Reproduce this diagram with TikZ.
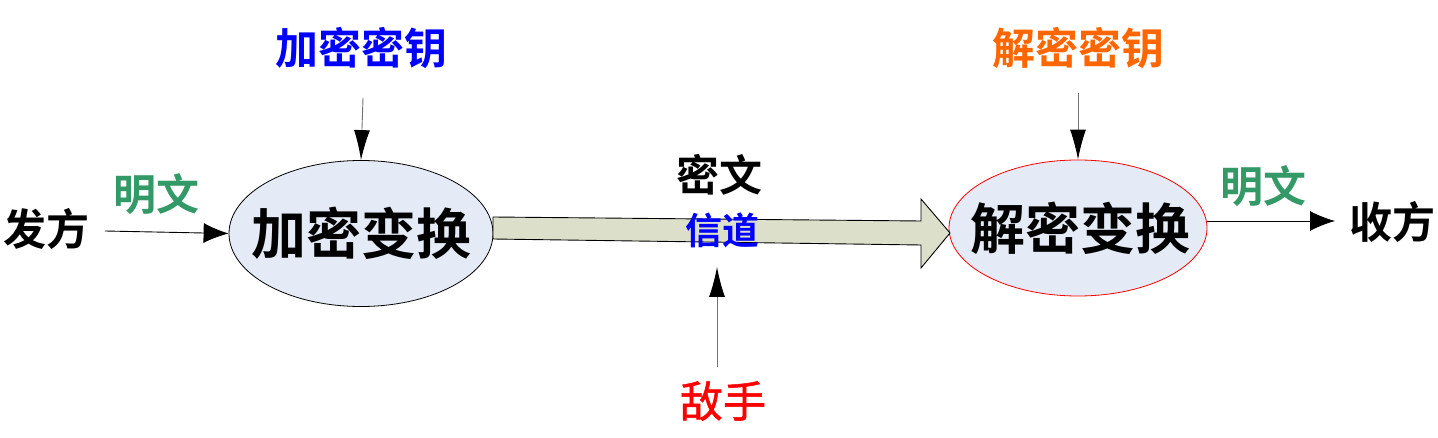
\documentclass[tikz,border=0pt]{standalone}
\usepackage{fontspec}
\newfontfamily\cjk{Noto Sans CJK SC}[BoldFont={Noto Sans CJK SC Bold}]
\newfontfamily\cjkmid{Noto Sans CJK SC}[FakeBold=1.2]
\usetikzlibrary{shapes.geometric,arrows.meta}
\definecolor{keyblue}{HTML}{0000FF}
\definecolor{keyorange}{HTML}{FF6600}
\definecolor{plaingreen}{HTML}{339966}
\definecolor{enemyred}{HTML}{FF0000}
\definecolor{ellfill}{HTML}{E5EBF6}
\definecolor{pipefill}{HTML}{DCDFCA}
\tikzset{
  lbl/.style={inner sep=0pt, font=\cjk\bfseries\fontsize{43}{50}\selectfont},
  biglbl/.style={inner sep=0pt, font=\cjk\bfseries\fontsize{55}{62}\selectfont},
  transform/.style={ellipse, fill=ellfill, inner sep=0pt},
  keyarrow/.style={draw=black!55, line width=0.9pt, -{Latex[length=30pt,width=16pt,color=black]}},
  flowarrow/.style={draw=black, line width=0.9pt, -{Latex[length=25pt,width=20pt]}},
}
\begin{document}
\begin{tikzpicture}[x=1pt,y=-1pt]
\useasboundingbox (0,0) rectangle (1438,438);
% ellipses
\node[transform, draw=black, line width=0.8pt, minimum width=264pt, minimum height=146pt] (enc) at (361,233.5) {};
\node[transform, draw=red, line width=0.8pt, minimum width=258pt, minimum height=136pt] (dec) at (1078,228) {};
\node[biglbl] (enct) at (361,233) {加密变换};
\node[biglbl] (dect) at (1080,228) {解密变换};
% channel block arrow
\draw[fill=pipefill, line width=0.9pt]
  (493,217) -- (921,221) -- (921,199) -- (950,233) -- (921,268) -- (921,245) -- (493,239) -- cycle;
\node[lbl] (cipher) at (719,175) {密文};
\node[inner sep=0pt, font=\cjk\bfseries\fontsize{37}{42}\selectfont, text=keyblue] (chan) at (722,230) {信道};
% keys
\node[lbl, text=keyblue] (ekey) at (361,48) {加密密钥};
\node[lbl, text=keyorange] (dkey) at (1078,48) {解密密钥};
\coordinate (ekeys) at (363,98);
\coordinate (dkeys) at (1078,93);
\draw[keyarrow] (ekeys) -- (enc.north);
\draw[keyarrow] (dkeys) -- (dec.north);
% enemy
\node[inner sep=0pt, font=\cjkmid\fontsize{43}{50}\selectfont, text=enemyred] (enemy) at (723,401) {敌手};
\coordinate (ens) at (717,367);
\coordinate (ene) at (717,267);
\draw[keyarrow] (ens) -- (ene);
% sender / receiver
\node[lbl] (send) at (47,229) {发方};
\node[lbl] (recv) at (1392,222) {收方};
\node[lbl, text=plaingreen] (p1) at (156,194) {明文};
\node[lbl, text=plaingreen] (p2) at (1263,186) {明文};
\coordinate (ss) at (105,231);
\coordinate (re) at (1335,221);
\draw[flowarrow] (ss) -- (enc.west);
\draw[flowarrow] (dec.east |- re) -- (re);
\end{tikzpicture}
\end{document}
